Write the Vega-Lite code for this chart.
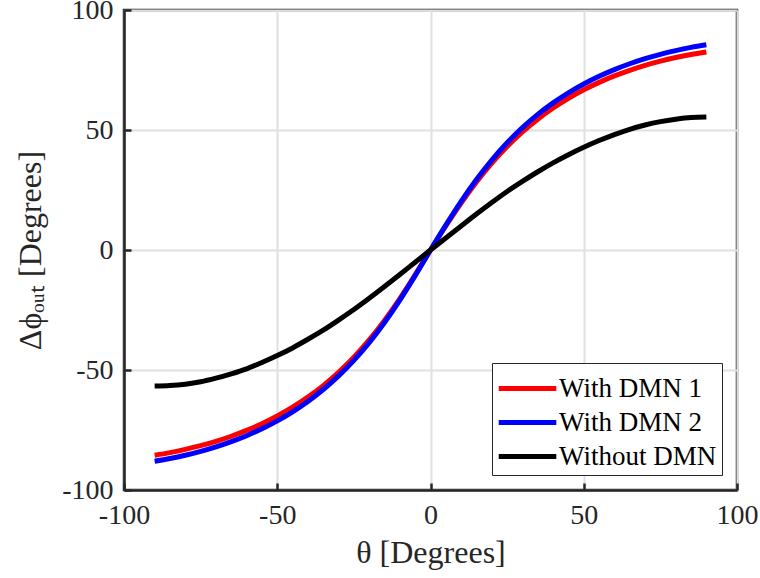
{
  "$schema": "https://vega.github.io/schema/vega-lite/v6.json",
  "width": 613,
  "height": 480,
  "autosize": {"type": "none"},
  "padding": {"left": 124, "top": 10, "right": 23, "bottom": 88},
  "background": "white",
  "config": {
    "font": "Liberation Serif",
    "view": {"stroke": "#262626", "strokeWidth": 2.5},
    "axis": {
      "labelFont": "Liberation Serif",
      "titleFont": "Liberation Serif",
      "labelFontSize": 28,
      "titleFontSize": 32,
      "labelColor": "#262626",
      "titleColor": "#262626",
      "titleFontWeight": "normal",
      "domainColor": "#262626",
      "domainWidth": 2.5,
      "tickColor": "#262626",
      "tickWidth": 2.5,
      "tickSize": -7,
      "labelFlush": false,
      "labelOverlap": false,
      "gridColor": "#e0e0e0",
      "gridWidth": 2
    },
    "legend": {
      "labelFont": "Liberation Serif",
      "labelFontSize": 27,
      "labelColor": "#000000"
    }
  },
  "data": {
    "values": [
      {"theta": -90, "phi": -85.5, "series": "With DMN 1"},
      {"theta": -85, "phi": -84.41, "series": "With DMN 1"},
      {"theta": -80, "phi": -83.09, "series": "With DMN 1"},
      {"theta": -75, "phi": -81.54, "series": "With DMN 1"},
      {"theta": -70, "phi": -79.72, "series": "With DMN 1"},
      {"theta": -65, "phi": -77.6, "series": "With DMN 1"},
      {"theta": -60, "phi": -75.18, "series": "With DMN 1"},
      {"theta": -55, "phi": -72.38, "series": "With DMN 1"},
      {"theta": -50, "phi": -69.18, "series": "With DMN 1"},
      {"theta": -45, "phi": -65.51, "series": "With DMN 1"},
      {"theta": -40, "phi": -61.3, "series": "With DMN 1"},
      {"theta": -35, "phi": -56.49, "series": "With DMN 1"},
      {"theta": -30, "phi": -50.97, "series": "With DMN 1"},
      {"theta": -25, "phi": -44.67, "series": "With DMN 1"},
      {"theta": -20, "phi": -37.48, "series": "With DMN 1"},
      {"theta": -15, "phi": -29.34, "series": "With DMN 1"},
      {"theta": -10, "phi": -20.26, "series": "With DMN 1"},
      {"theta": -5, "phi": -10.37, "series": "With DMN 1"},
      {"theta": 0, "phi": 0, "series": "With DMN 1"},
      {"theta": 5, "phi": 10.0, "series": "With DMN 1"},
      {"theta": 10, "phi": 19.55, "series": "With DMN 1"},
      {"theta": 15, "phi": 28.31, "series": "With DMN 1"},
      {"theta": 20, "phi": 36.17, "series": "With DMN 1"},
      {"theta": 25, "phi": 43.1, "series": "With DMN 1"},
      {"theta": 30, "phi": 49.19, "series": "With DMN 1"},
      {"theta": 35, "phi": 54.5, "series": "With DMN 1"},
      {"theta": 40, "phi": 59.15, "series": "With DMN 1"},
      {"theta": 45, "phi": 63.21, "series": "With DMN 1"},
      {"theta": 50, "phi": 66.76, "series": "With DMN 1"},
      {"theta": 55, "phi": 69.85, "series": "With DMN 1"},
      {"theta": 60, "phi": 72.54, "series": "With DMN 1"},
      {"theta": 65, "phi": 74.88, "series": "With DMN 1"},
      {"theta": 70, "phi": 76.92, "series": "With DMN 1"},
      {"theta": 75, "phi": 78.68, "series": "With DMN 1"},
      {"theta": 80, "phi": 80.18, "series": "With DMN 1"},
      {"theta": 85, "phi": 81.44, "series": "With DMN 1"},
      {"theta": 90, "phi": 82.5, "series": "With DMN 1"},

      {"theta": -90, "phi": -88.0, "series": "With DMN 2"},
      {"theta": -85, "phi": -86.88, "series": "With DMN 2"},
      {"theta": -80, "phi": -85.52, "series": "With DMN 2"},
      {"theta": -75, "phi": -83.92, "series": "With DMN 2"},
      {"theta": -70, "phi": -82.05, "series": "With DMN 2"},
      {"theta": -65, "phi": -79.87, "series": "With DMN 2"},
      {"theta": -60, "phi": -77.37, "series": "With DMN 2"},
      {"theta": -55, "phi": -74.5, "series": "With DMN 2"},
      {"theta": -50, "phi": -71.21, "series": "With DMN 2"},
      {"theta": -45, "phi": -67.42, "series": "With DMN 2"},
      {"theta": -40, "phi": -63.1, "series": "With DMN 2"},
      {"theta": -35, "phi": -58.14, "series": "With DMN 2"},
      {"theta": -30, "phi": -52.47, "series": "With DMN 2"},
      {"theta": -25, "phi": -45.98, "series": "With DMN 2"},
      {"theta": -20, "phi": -38.58, "series": "With DMN 2"},
      {"theta": -15, "phi": -30.2, "series": "With DMN 2"},
      {"theta": -10, "phi": -20.85, "series": "With DMN 2"},
      {"theta": -5, "phi": -10.67, "series": "With DMN 2"},
      {"theta": 0, "phi": 0, "series": "With DMN 2"},
      {"theta": 5, "phi": 10.37, "series": "With DMN 2"},
      {"theta": 10, "phi": 20.26, "series": "With DMN 2"},
      {"theta": 15, "phi": 29.34, "series": "With DMN 2"},
      {"theta": 20, "phi": 37.48, "series": "With DMN 2"},
      {"theta": 25, "phi": 44.67, "series": "With DMN 2"},
      {"theta": 30, "phi": 50.97, "series": "With DMN 2"},
      {"theta": 35, "phi": 56.49, "series": "With DMN 2"},
      {"theta": 40, "phi": 61.3, "series": "With DMN 2"},
      {"theta": 45, "phi": 65.51, "series": "With DMN 2"},
      {"theta": 50, "phi": 69.18, "series": "With DMN 2"},
      {"theta": 55, "phi": 72.38, "series": "With DMN 2"},
      {"theta": 60, "phi": 75.18, "series": "With DMN 2"},
      {"theta": 65, "phi": 77.6, "series": "With DMN 2"},
      {"theta": 70, "phi": 79.72, "series": "With DMN 2"},
      {"theta": 75, "phi": 81.54, "series": "With DMN 2"},
      {"theta": 80, "phi": 83.09, "series": "With DMN 2"},
      {"theta": 85, "phi": 84.41, "series": "With DMN 2"},
      {"theta": 90, "phi": 85.5, "series": "With DMN 2"},

      {"theta": -90, "phi": -56.7, "series": "Without DMN"},
      {"theta": -85, "phi": -56.5, "series": "Without DMN"},
      {"theta": -80, "phi": -55.9, "series": "Without DMN"},
      {"theta": -75, "phi": -54.9, "series": "Without DMN"},
      {"theta": -70, "phi": -53.4, "series": "Without DMN"},
      {"theta": -65, "phi": -51.6, "series": "Without DMN"},
      {"theta": -60, "phi": -49.5, "series": "Without DMN"},
      {"theta": -55, "phi": -46.9, "series": "Without DMN"},
      {"theta": -50, "phi": -44.0, "series": "Without DMN"},
      {"theta": -45, "phi": -40.8, "series": "Without DMN"},
      {"theta": -40, "phi": -37.2, "series": "Without DMN"},
      {"theta": -35, "phi": -33.4, "series": "Without DMN"},
      {"theta": -30, "phi": -29.2, "series": "Without DMN"},
      {"theta": -25, "phi": -24.8, "series": "Without DMN"},
      {"theta": -20, "phi": -20.1, "series": "Without DMN"},
      {"theta": -15, "phi": -15.2, "series": "Without DMN"},
      {"theta": -10, "phi": -10.2, "series": "Without DMN"},
      {"theta": -5, "phi": -5.1, "series": "Without DMN"},
      {"theta": 0, "phi": 0, "series": "Without DMN"},
      {"theta": 5, "phi": 5.0, "series": "Without DMN"},
      {"theta": 10, "phi": 10.0, "series": "Without DMN"},
      {"theta": 15, "phi": 15.0, "series": "Without DMN"},
      {"theta": 20, "phi": 19.8, "series": "Without DMN"},
      {"theta": 25, "phi": 24.4, "series": "Without DMN"},
      {"theta": 30, "phi": 28.6, "series": "Without DMN"},
      {"theta": 35, "phi": 32.6, "series": "Without DMN"},
      {"theta": 40, "phi": 36.3, "series": "Without DMN"},
      {"theta": 45, "phi": 39.7, "series": "Without DMN"},
      {"theta": 50, "phi": 42.8, "series": "Without DMN"},
      {"theta": 55, "phi": 45.6, "series": "Without DMN"},
      {"theta": 60, "phi": 48.1, "series": "Without DMN"},
      {"theta": 65, "phi": 50.3, "series": "Without DMN"},
      {"theta": 70, "phi": 52.1, "series": "Without DMN"},
      {"theta": 75, "phi": 53.5, "series": "Without DMN"},
      {"theta": 80, "phi": 54.5, "series": "Without DMN"},
      {"theta": 85, "phi": 55.2, "series": "Without DMN"},
      {"theta": 90, "phi": 55.4, "series": "Without DMN"}
    ]
  },
  "mark": {"type": "line", "strokeWidth": 5, "interpolate": "monotone", "strokeCap": "butt"},
  "encoding": {
    "x": {
      "field": "theta",
      "type": "quantitative",
      "scale": {"domain": [-100, 100], "nice": false, "zero": false},
      "axis": {
        "values": [-100, -50, 0, 50, 100],
        "labelExpr": "datum.value < 0 ? '-' + abs(datum.value) : '' + datum.value",
        "labelPadding": 18,
        "title": "θ [Degrees]",
        "titlePadding": 8
      }
    },
    "y": {
      "field": "phi",
      "type": "quantitative",
      "scale": {"domain": [-100, 100], "nice": false, "zero": false},
      "axis": {
        "values": [-100, -50, 0, 50, 100],
        "labelExpr": "datum.value < 0 ? '-' + abs(datum.value) : '' + datum.value",
        "labelPadding": 18,
        "title": "Δϕₒᵤₜ [Degrees]",
        "titlePadding": 14
      }
    },
    "color": {
      "field": "series",
      "type": "nominal",
      "scale": {"domain": ["With DMN 1", "With DMN 2", "Without DMN"], "range": ["#ff0000", "#0000ff", "#000000"]},
      "legend": {
        "title": null,
        "orient": "bottom-right",
        "offset": 15,
        "symbolType": "M-1.6,0H1.6",
        "symbolSize": 1296,
        "symbolStrokeWidth": 5,
        "symbolOffset": 10,
        "strokeColor": "#262626",
        "fillColor": "white",
        "padding": 5,
        "rowPadding": 0,
        "labelOffset": 11,
        "cornerRadius": 0
      }
    }
  }
}
